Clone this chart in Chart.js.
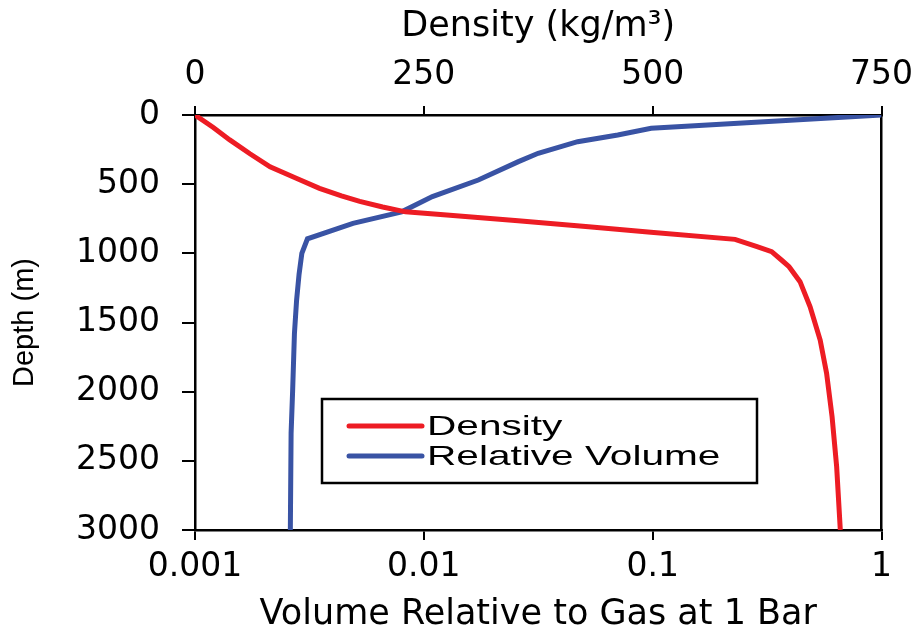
<!DOCTYPE html>
<html>
<head>
<meta charset="utf-8">
<script src="https://cdn.jsdelivr.net/npm/chart.js@4.4.1/dist/chart.umd.min.js"></script>
<style>
    html, body { margin: 0; padding: 0; background: #ffffff; }
</style>
</head>
<body>
<canvas id="graficoProfundidade" width="924" height="632"></canvas>
<script>

// densidade (eixo de cima) por profundidade
const densidadeProfundidade = [0, 90, 180, 280, 375, 455, 530, 585, 625, 665, 700, 723, 764, 808, 848, 899, 952, 988, 1050, 1097, 1205, 1386, 1627, 1867, 2181, 2543, 3000];
const densidadeValores = [0, 20, 38, 60, 82, 110, 136, 160, 180, 205, 230, 275, 353, 430, 498, 590, 614, 630, 641, 649, 661, 672, 683, 690, 696, 701, 705];

// volume relativo (eixo de baixo, log) por profundidade
const volumeProfundidade = [0, 96, 145, 193, 277, 337, 470, 590, 700, 783, 895, 1000, 1150, 1337, 1578, 2000, 2300, 3000];
const volumeValores = [1, 0.0985, 0.0704, 0.047, 0.0316, 0.0259, 0.0173, 0.0109, 0.008, 0.0049, 0.0031, 0.00293, 0.00285, 0.00278, 0.00272, 0.00267, 0.00263, 0.00261];

const ticksVolume = [0.001, 0.01, 0.1, 1];
const ticksDensidade = [0, 250, 500, 750];
const ticksProfundidade = [0, 500, 1000, 1500, 2000, 2500, 3000];

const fonte = '"DejaVu Sans", sans-serif';
const fonteArial = '"Liberation Sans", Arial, sans-serif';

function pontos(xs, ys) {
    return xs.map(function(x, i) {
        return { x: x, y: ys[i] };
    });
}

// legenda com caixa dentro do grafico
const legendaCaixa = {
    id: "legendaCaixa",
    afterDraw: function(chart) {
        const ctx = chart.ctx;
        const area = chart.chartArea;

        let x = area.left + 127;
        let y = area.top + 284;

        ctx.save();
        ctx.strokeStyle = "#000";
        ctx.lineWidth = 2.5;
        ctx.strokeRect(x, y, 435, 84);

        chart.data.datasets.forEach(function(ds, i) {
            let cy = y + 27 + i * 30;

            ctx.strokeStyle = ds.borderColor;
            ctx.lineWidth = 5;
            ctx.lineCap = "round";
            ctx.beginPath();
            ctx.moveTo(x + 27, cy);
            ctx.lineTo(x + 100, cy);
            ctx.stroke();

            ctx.save();
            ctx.translate(x + 105, cy);
            ctx.scale(1.45, 1);
            ctx.fillStyle = "#000";
            ctx.font = "28px " + fonteArial;
            ctx.textBaseline = "middle";
            ctx.fillText(ds.label, 0, 1);
            ctx.restore();
        });

        ctx.restore();
    }
};

const ctx = document.getElementById("graficoProfundidade");

new Chart(ctx, {
    type: "scatter",
    data: {
        datasets: [
            {
                label: "Density",
                data: pontos(densidadeValores, densidadeProfundidade),
                xAxisID: "xTop",
                yAxisID: "y",
                showLine: true,
                borderColor: "#ed1c24",
                backgroundColor: "#ed1c24",
                borderWidth: 5,
                pointRadius: 0,
                tension: 0
            },
            {
                label: "Relative Volume",
                data: pontos(volumeValores, volumeProfundidade),
                xAxisID: "x",
                yAxisID: "y",
                showLine: true,
                borderColor: "#3953a4",
                backgroundColor: "#3953a4",
                borderWidth: 5,
                pointRadius: 0,
                tension: 0
            }
        ]
    },
    options: {
        responsive: false,
        animation: false,
        layout: { padding: 0 },
        plugins: {
            legend: { display: false },
            tooltip: { enabled: false }
        },
        scales: {
            x: {
                type: "logarithmic",
                position: "bottom",
                min: 0.001,
                max: 1,
                afterBuildTicks: function(scale) {
                    scale.ticks = ticksVolume.map(function(v) { return { value: v }; });
                },
                afterFit: function(scale) { scale.height = 102; },
                ticks: {
                    color: "#000",
                    font: { family: fonte, size: 33 },
                    padding: 8,
                    maxRotation: 0,
                    autoSkip: false,
                    callback: function(value) { return String(value); }
                },
                grid: { drawOnChartArea: false, tickLength: 10, color: "#000", lineWidth: 2 },
                border: { color: "#000", width: 2.5 },
                title: {
                    display: true,
                    text: "Volume Relative to Gas at 1 Bar",
                    color: "#000",
                    font: { family: fonte, size: 35, lineHeight: 1 },
                    padding: { top: 0, bottom: 0 }
                }
            },
            xTop: {
                type: "linear",
                position: "top",
                min: 0,
                max: 750,
                afterBuildTicks: function(scale) {
                    scale.ticks = ticksDensidade.map(function(v) { return { value: v }; });
                },
                afterFit: function(scale) { scale.height = 115; },
                ticks: {
                    color: "#000",
                    font: { family: fonte, size: 33 },
                    padding: 11,
                    maxRotation: 0,
                    autoSkip: false,
                    callback: function(value) { return String(value); }
                },
                grid: { drawOnChartArea: false, tickLength: 9, color: "#000", lineWidth: 2 },
                border: { color: "#000", width: 2.5 },
                title: {
                    display: true,
                    text: "Density (kg/m³)",
                    color: "#000",
                    font: { family: fonte, size: 35, lineHeight: 1 },
                    padding: { top: 9, bottom: 0 }
                }
            },
            y: {
                type: "linear",
                position: "left",
                reverse: true,
                min: 0,
                max: 3000,
                afterBuildTicks: function(scale) {
                    scale.ticks = ticksProfundidade.map(function(v) { return { value: v }; });
                },
                afterFit: function(scale) { scale.width = 195; },
                ticks: {
                    color: "#000",
                    font: { family: fonte, size: 33 },
                    padding: 22,
                    autoSkip: false,
                    callback: function(value) { return String(value); }
                },
                grid: { drawOnChartArea: false, tickLength: 13, color: "#000", lineWidth: 2 },
                border: { color: "#000", width: 2.5 },
                title: {
                    display: true,
                    text: "Depth (m)",
                    color: "#000",
                    font: { family: fonteArial, size: 29, lineHeight: 1 },
                    padding: { top: 10, bottom: 0 }
                }
            },
            yRight: {
                type: "linear",
                position: "right",
                min: 0,
                max: 3000,
                afterFit: function(scale) { scale.width = 39; },
                ticks: { display: false },
                grid: { display: false, drawTicks: false },
                border: { color: "#000", width: 2.5 }
            }
        }
    },
    plugins: [legendaCaixa]
});
</script>
</body>
</html>
